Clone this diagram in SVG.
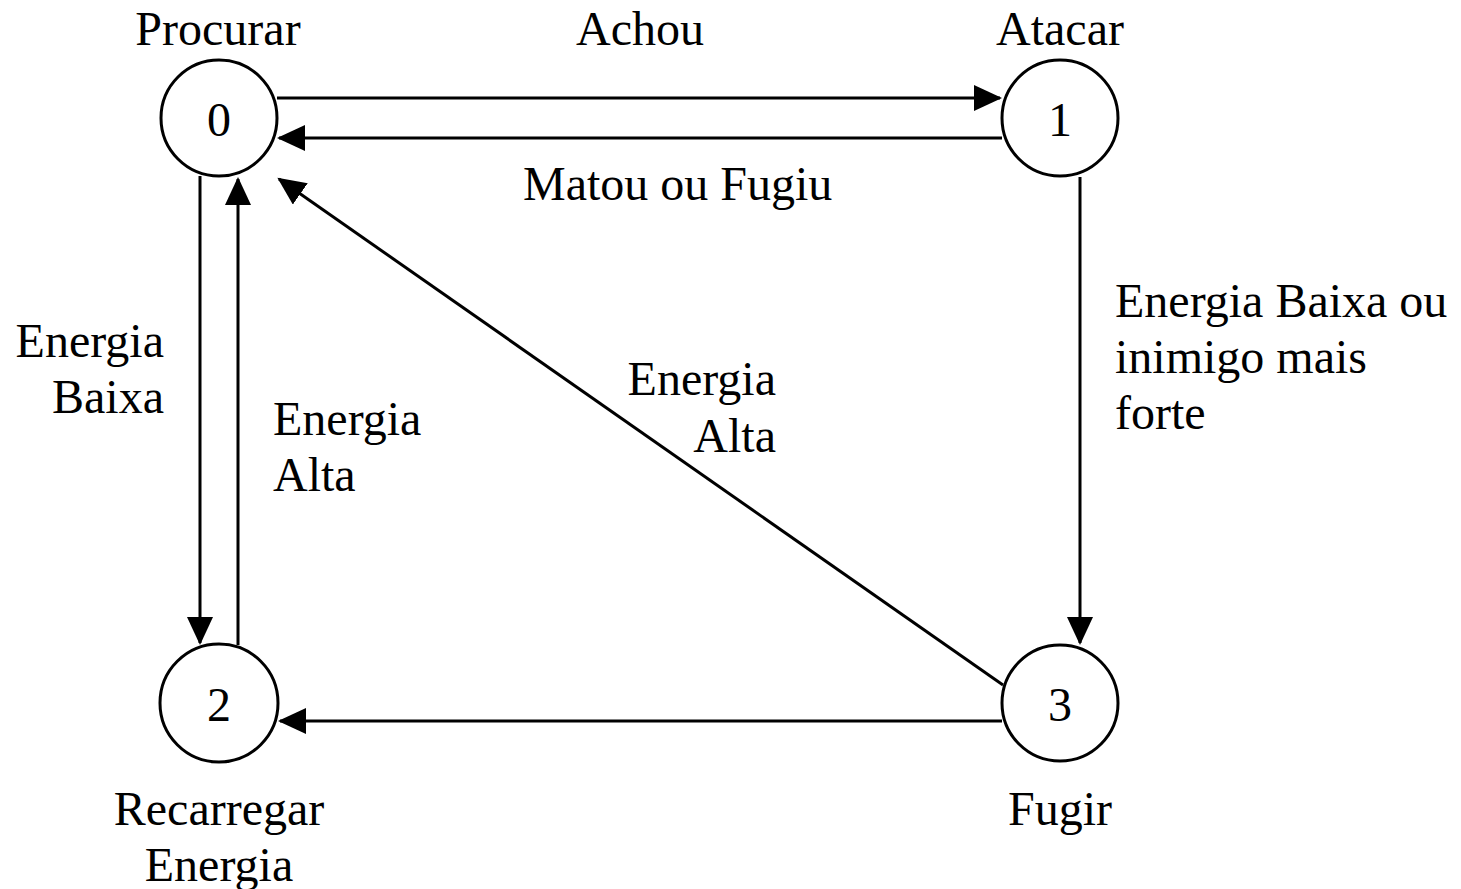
<svg xmlns="http://www.w3.org/2000/svg" width="1461" height="889" viewBox="0 0 1461 889">
<style>
.node circle{fill:#fff;stroke:#000;stroke-width:3}
text{font-family:"Liberation Serif","Times New Roman",serif;font-size:48px;fill:#000}
.c{text-anchor:middle}
.r{text-anchor:end}
#edges line{stroke:#000;stroke-width:3;fill:none;marker-end:url(#arr)}
</style>
<defs>
<marker id="arr" markerUnits="userSpaceOnUse" markerWidth="30" markerHeight="28" refX="26" refY="13" orient="auto">
<path d="M0,0 L28,13 L0,26 z" fill="#000"/>
</marker>
</defs>
<rect width="1461" height="889" fill="#fff"/>
<g id="edges">
<line x1="277" y1="98" x2="1000" y2="98"/>
<line x1="1002" y1="138" x2="279" y2="138"/>
<line x1="200" y1="176" x2="200" y2="643"/>
<line x1="238" y1="645" x2="238" y2="179"/>
<line x1="1080" y1="177" x2="1080" y2="643"/>
<line x1="1002" y1="721" x2="280" y2="721"/>
<line x1="1003" y1="685" x2="279" y2="179"/>
</g>
<g id="node0" class="node"><circle cx="219" cy="118" r="58"/><text class="c" x="219" y="136">0</text></g>
<g id="node1" class="node"><circle cx="1060" cy="118" r="58"/><text class="c" x="1060" y="136">1</text></g>
<g id="node2" class="node"><circle cx="219" cy="703" r="59"/><text class="c" x="219" y="721">2</text></g>
<g id="node3" class="node"><circle cx="1060" cy="703" r="58"/><text class="c" x="1060" y="721">3</text></g>
<g id="labels">
<text class="c" x="218" y="45">Procurar</text>
<text class="c" x="640" y="45">Achou</text>
<text class="c" x="1060" y="45">Atacar</text>
<text x="523" y="200">Matou ou Fugiu</text>
<text class="r" x="164" y="357">Energia</text>
<text class="r" x="164" y="413">Baixa</text>
<text x="273" y="435">Energia</text>
<text x="273" y="491">Alta</text>
<text class="r" x="776" y="395">Energia</text>
<text class="r" x="776" y="452">Alta</text>
<text x="1115" y="317">Energia Baixa ou</text>
<text x="1115" y="373">inimigo mais</text>
<text x="1115" y="429">forte</text>
<text class="c" x="219" y="825">Recarregar</text>
<text class="c" x="219" y="881">Energia</text>
<text class="c" x="1060" y="825">Fugir</text>
</g>
</svg>
